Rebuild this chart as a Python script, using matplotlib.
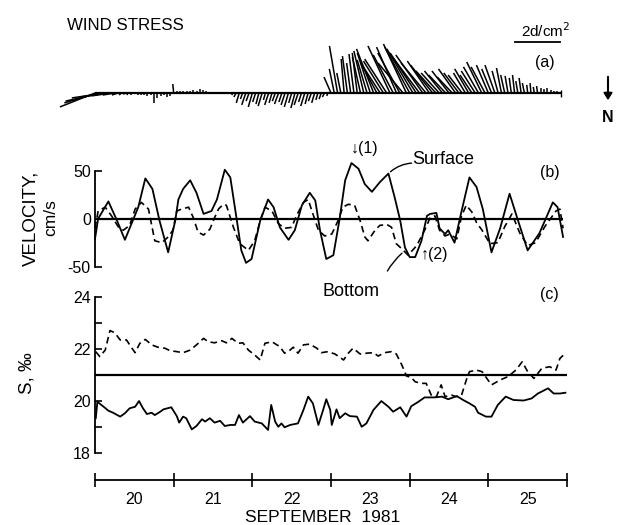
import numpy as np
import matplotlib
matplotlib.use("Agg")
from matplotlib import pyplot as plt
from matplotlib.collections import LineCollection

plt.rcParams['font.family'] = ['Liberation Sans', 'DejaVu Sans']

# --- wind stress sticks, hourly from Sept 20 00:00 (dyn/cm^2) ---
wind_t = 20 + np.arange(145) / 24
wind_u = ([-1.56, -1.51, -1.60, -1.47, -1.24, -0.89, -0.53, -0.27,
           -0.09, -0.04, -0.04, 0, 0, 0, 0, 0, 0, 0]
          + [0] * 6 + [-0.04] + [0] * 15 + [0, 0, -0.04, -0.09]
          + [-0.13, -0.09, -0.18, -0.13, -0.18, -0.13, -0.13, -0.18, -0.09, -0.18,
             -0.13, -0.13, -0.18, -0.13, -0.18, -0.18, -0.13, -0.18, -0.18, -0.13,
             -0.18, -0.13, -0.13, -0.13, -0.09, -0.09, -0.09, -0.04]
          + [-0.31, -0.22, -0.36, -0.18, -0.13, -0.22, -0.18, -0.22, -0.22, -0.36,
             -0.44, -0.44, -0.58, -0.76, -0.71, -0.80, -0.89, -0.98, -0.98, -0.89,
             -0.89, -0.98, -1.11, -1.02, -1.11, -1.16, -1.16, -1.20, -1.20, -1.11,
             -0.98, -0.98, -0.89, -0.80, -0.80, -0.76, -0.76, -0.67, -0.76, -0.67,
             -0.62, -0.53, -0.62, -0.53, -0.62, -0.67, -0.67, -0.62, -0.53, -0.44,
             -0.44, -0.27, -0.22, -0.18, -0.13, -0.09, -0.09, -0.09, -0.09, -0.09,
             -0.04, -0.04, -0.04, -0.04, 0, 0, 0, 0, 0, 0, 0, 0, 0])
wind_v = ([-0.62, -0.44, -0.36, -0.22, -0.18, -0.13, -0.09, -0.09,
           -0.09, -0.07, -0.09, -0.09, -0.04, -0.09, -0.09, -0.09, -0.13, -0.09,
           -0.44, -0.22, -0.13, -0.09, -0.18, -0.13, 0.40,
           0.09, 0.09, 0.07, 0.09, 0.09, 0.13, 0.09, 0.16, 0.13, 0.09, 0.04, 0.04,
           0.02, -0.04, -0.04, -0.04, -0.04, -0.09, -0.18]
          + [-0.44, -0.27, -0.53, -0.36, -0.62, -0.40, -0.49, -0.58, -0.31, -0.53,
             -0.44, -0.36, -0.49, -0.40, -0.53, -0.62, -0.44, -0.67, -0.53, -0.40,
             -0.58, -0.49, -0.36, -0.44, -0.31, -0.27, -0.18, -0.13]
          + [0.71, 1.07, 2.09, 0.89, 1.51, 1.64, 1.33, 1.73, 1.78, 1.60,
             1.87, 1.47, 1.78, 1.96, 1.33, 1.24, 1.42, 1.51, 2.09, 1.69,
             2.04, 1.78, 1.33, 2.18, 2.04, 1.96, 1.78, 1.60, 1.69, 1.33,
             1.42, 1.24, 0.98, 0.89, 0.98, 0.80, 0.98, 0.71, 1.07, 0.89,
             0.80, 0.89, 1.07, 0.80, 0.98, 1.16, 1.38, 1.16, 1.24, 1.07,
             1.24, 0.98, 1.11, 0.80, 0.76, 0.67, 0.80, 0.53, 0.67, 0.44,
             0.36, 0.44, 0.27, 0.31, 0.22, 0.18, 0.22, 0.13, 0.09, 0.09,
             0.04, 0, 0])

# --- velocity (cm/s) ---
surf_t = [20.00, 20.04, 20.17, 20.28, 20.38, 20.49, 20.55, 20.64, 20.73, 20.82,
          20.93, 21.02, 21.06, 21.12, 21.21, 21.29, 21.38, 21.48, 21.55, 21.65,
          21.72, 21.80, 21.86, 21.92, 21.99, 22.10, 22.20, 22.27, 22.35, 22.46,
          22.54, 22.63, 22.73, 22.80, 22.86, 22.94, 23.03, 23.11, 23.18, 23.26,
          23.35, 23.43, 23.52, 23.62, 23.73, 23.81, 23.88, 23.94, 24.00, 24.07,
          24.15, 24.22, 24.26, 24.34, 24.38, 24.45, 24.49, 24.57, 24.66, 24.76,
          24.85, 24.93, 25.04, 25.15, 25.27, 25.37, 25.50, 25.65, 25.82, 25.88,
          25.95]
surf_v = [-21, 0, 18, -2, -22, 0, 12, 42, 31, -2, -35, -2, 20, 31, 40, 27, 5, 8,
          20, 51, 43, 0, -33, -46, -42, -2, 20, 12, -9, -22, -12, 14, 27, 19, -12,
          -42, -38, 0, 40, 58, 52, 36, 28, 38, 47, 22, -2, -30, -40, -40, -23, 3,
          5, 6, -10, -16, -12, -25, 8, 43, 33, 10, -35, -10, 26, 0, -33, -15, 17,
          12, -19]
bot_t = [20.00, 20.04, 20.13, 20.21, 20.30, 20.36, 20.44, 20.51, 20.59, 20.68,
         20.76, 20.85, 20.93, 20.99, 21.04, 21.10, 21.19, 21.25, 21.31, 21.38,
         21.46, 21.52, 21.57, 21.63, 21.67, 21.76, 21.84, 21.95, 22.03, 22.10,
         22.16, 22.25, 22.33, 22.41, 22.50, 22.56, 22.65, 22.71, 22.77, 22.84,
         22.92, 23.01, 23.09, 23.15, 23.22, 23.30, 23.37, 23.43, 23.47, 23.56,
         23.62, 23.71, 23.77, 23.83, 23.92, 23.98, 24.09, 24.19, 24.26, 24.32,
         24.38, 24.45, 24.51, 24.60, 24.66, 24.72, 24.79, 24.85, 24.92, 25.02,
         25.12, 25.21, 25.30, 25.40, 25.50, 25.60, 25.72, 25.86, 25.91, 25.95]
bot_v = [-10, 8, 12, 3, -9, -12, -7, 10, 17, 10, -23, -25, -19, -12, 8, 10, 12,
         1, -14, -17, -11, 1, 10, 15, 14, -9, -26, -33, -23, -2, 12, 8, -5, -10,
         -9, 3, 17, 20, 5, -12, -18, -16, -2, 12, 15, 14, -2, -19, -23, -12, -7,
         -6, -9, -26, -33, -38, -28, -12, 1, 3, -12, -18, -16, -21, 3, 14, 7, -4,
         -12, -26, -25, -8, 5, -15, -28, -25, -8, 8, 10, -10]

# --- salinity (per mil) ---
sb_t = [20.01, 20.06, 20.13, 20.19, 20.25, 20.32, 20.40, 20.47, 20.51, 20.57,
        20.64, 20.72, 20.80, 20.89, 20.95, 21.04, 21.12, 21.21, 21.29, 21.38,
        21.44, 21.52, 21.61, 21.67, 21.74, 21.82, 21.88, 21.95, 22.03, 22.10,
        22.16, 22.25, 22.35, 22.41, 22.48, 22.52, 22.58, 22.65, 22.73, 22.82,
        22.88, 22.96, 23.05, 23.16, 23.22, 23.28, 23.37, 23.45, 23.54, 23.60,
        23.68, 23.77, 23.83, 23.90, 23.96, 24.02, 24.07, 24.15, 24.21, 24.28,
        24.34, 24.40, 24.45, 24.53, 24.59, 24.66, 24.72, 24.76, 24.85, 24.92,
        25.04, 25.15, 25.25, 25.35, 25.43, 25.50, 25.58, 25.68, 25.78, 25.86,
        25.91, 25.98]
sb_s = [21.91, 21.72, 21.97, 22.72, 22.64, 22.36, 22.36, 22.04, 21.87, 22.23,
        22.38, 22.17, 22.08, 22.04, 21.95, 21.91, 21.87, 21.97, 22.17, 22.42,
        22.29, 22.25, 22.33, 22.25, 22.42, 22.23, 22.25, 21.97, 21.78, 21.59,
        22.23, 22.29, 22.10, 21.85, 21.97, 22.08, 21.85, 22.17, 22.20, 22.04,
        21.87, 21.91, 21.82, 21.59, 21.85, 22.04, 21.82, 21.85, 21.87, 21.74,
        21.87, 21.91, 21.82, 21.40, 20.97, 20.92, 20.75, 20.69, 20.69, 20.20,
        20.18, 20.63, 20.18, 20.24, 20.18, 20.24, 20.82, 21.14, 21.20, 21.14,
        20.63, 20.82, 20.95, 21.20, 21.52, 21.14, 20.88, 21.27, 21.33, 21.20,
        21.65, 21.85]
ss_t = [20.01, 20.03, 20.11, 20.17, 20.23, 20.32, 20.38, 20.44, 20.51, 20.56,
        20.61, 20.66, 20.72, 20.76, 20.83, 20.87, 20.97, 21.04, 21.07, 21.12,
        21.16, 21.23, 21.29, 21.36, 21.40, 21.46, 21.52, 21.59, 21.65, 21.72,
        21.78, 21.83, 21.88, 21.97, 22.03, 22.12, 22.20, 22.24, 22.29, 22.33,
        22.37, 22.41, 22.48, 22.58, 22.65, 22.71, 22.77, 22.84, 22.90, 22.94,
        22.99, 23.01, 23.07, 23.11, 23.18, 23.24, 23.33, 23.39, 23.45, 23.54,
        23.64, 23.73, 23.79, 23.88, 23.96, 24.02, 24.11, 24.19, 24.32, 24.41,
        24.49, 24.60, 24.68, 24.76, 24.83, 24.87, 24.97, 25.04, 25.12, 25.22,
        25.32, 25.45, 25.55, 25.63, 25.76, 25.83, 25.91, 25.98]
ss_s = [19.35, 19.98, 19.79, 19.64, 19.56, 19.41, 19.54, 19.73, 19.79, 20.01,
        19.73, 19.51, 19.56, 19.47, 19.60, 19.69, 19.77, 19.43, 19.18, 19.41,
        19.35, 18.92, 19.05, 19.31, 19.22, 19.35, 19.18, 19.25, 19.05, 19.09,
        19.09, 19.47, 19.18, 19.43, 19.22, 19.15, 18.90, 19.86, 19.22, 19.02,
        19.15, 19.00, 19.09, 19.15, 19.67, 20.18, 19.92, 19.09, 19.67, 20.08,
        19.67, 19.09, 19.69, 19.35, 19.54, 19.43, 19.41, 19.02, 19.15, 19.67,
        20.01, 19.79, 19.60, 19.77, 19.41, 19.81, 19.98, 20.15, 20.15, 20.18,
        20.08, 20.20, 20.05, 19.92, 19.79, 19.56, 19.41, 19.41, 19.86, 20.18,
        20.05, 20.03, 20.11, 20.30, 20.50, 20.30, 20.30, 20.33]

days = [20, 21, 22, 23, 24, 25]

W, H = 619, 525
fig = plt.figure(figsize=(W / 100, H / 100), dpi=100)


def box(x0, y0, x1, y1):
    return [x0 / W, 1 - y1 / H, (x1 - x0) / W, (y1 - y0) / H]


def ftext(x, y, s, **kw):
    kw.setdefault("ha", "center")
    kw.setdefault("va", "center")
    fig.text(x / W, 1 - y / H, s, **kw)


lw = 1.3
day_per_dyn = 22.5 / 78.7  # so sticks keep their true direction

# (a) wind stress
ax_a = fig.add_axes(box(95, 40, 567, 115))
ax_a.set_xlim(20, 26)
ax_a.set_ylim(-22 / 22.5, 53 / 22.5)
ax_a.axis("off")
segs = [[(t, 0), (t + u * day_per_dyn, v)] for t, u, v in zip(wind_t, wind_u, wind_v)]
ax_a.add_collection(LineCollection(segs, colors="k", linewidths=1.1, clip_on=False))
ax_a.hlines(0, 20, 25.93, color="k", lw=1.6)
ax_a.vlines(25.93, -0.18, 0.13, color="k", lw=1)
ax_a.plot([25.34, 25.34 + 2 * day_per_dyn], [2.27, 2.27], color="k", lw=1.3, clip_on=False)

# (b) velocity
ax_b = fig.add_axes(box(95, 170.7, 567, 266.7))
ax_b.set_xlim(20, 26)
ax_b.set_ylim(-50, 50)
ax_b.hlines(0, 20, 25.95, color="k", lw=1.6)
ax_b.plot(surf_t, surf_v, color="k", lw=lw, clip_on=False)
ax_b.plot(bot_t, bot_v, color="k", lw=1.2, dashes=(4, 2.5), clip_on=False)

# (c) salinity
ax_c = fig.add_axes(box(95, 297.3, 567, 453.3))
ax_c.set_xlim(20, 26)
ax_c.set_ylim(18, 24)
ax_c.hlines(21, 20, 26, color="k", lw=1.6)
ax_c.plot(ss_t, ss_s, color="k", lw=lw, clip_on=False)
ax_c.plot(sb_t, sb_s, color="k", lw=1.2, dashes=(4, 2.5), clip_on=False)

for ax in (ax_b, ax_c):
    for side in ("top", "right", "bottom"):
        ax.spines[side].set_visible(False)
    ax.spines["left"].set_linewidth(1.3)
    ax.set_xticks([])
    ax.tick_params(axis="y", direction="in", length=5, width=1.2, labelsize=11.5, pad=3)

ax_b.set_yticks([-50, 0, 50])
ax_b.set_yticklabels(["-50", "0", "50"])
ax_c.set_yticks([18, 19, 20, 21, 22, 23, 24])
ax_c.set_yticklabels(["18", "", "20", "", "22", "", "24"])

# time axis
ax_t = fig.add_axes(box(95, 479, 567, 480))
ax_t.set_xlim(20, 26)
ax_t.set_yticks([])
for side in ("top", "right", "left"):
    ax_t.spines[side].set_visible(False)
ax_t.spines["bottom"].set_linewidth(1.3)
ax_t.set_xticks(range(20, 27))
ax_t.set_xticklabels([])
ax_t.tick_params(axis="x", which="major", direction="inout", length=10, width=1.2)
ax_t.set_xticks([d + 0.5 for d in days], minor=True)
ax_t.set_xticklabels([str(d) for d in days], minor=True)
ax_t.tick_params(axis="x", which="minor", length=0, labelsize=11.5, pad=9)

# labels
ftext(67, 25, "WIND STRESS", ha="left", fontsize=12.2)
ftext(546, 31, "2d/cm$^2$", fontsize=11)
ftext(545, 62, "(a)", fontsize=11.5)
ftext(608, 117, "N", fontsize=11.5, fontweight="bold")
fig.add_artist(matplotlib.patches.FancyArrowPatch(
    (608 / W, 1 - 74 / H), (608 / W, 1 - 103 / H), transform=fig.transFigure,
    arrowstyle="-|>,head_length=4,head_width=2.5", color="k", lw=1.5))

ftext(31, 218, "VELOCITY,", rotation=90, fontsize=13.5)
ftext(51, 218, "cm/s", rotation=90, fontsize=12.5)
ftext(550, 172, "(b)", fontsize=11.5)
ftext(365, 148, "\u2193(1)", fontsize=11.5)
ftext(412, 160, "Surface", ha="left", fontsize=13)
ftext(421, 254, "\u2191(2)", ha="left", fontsize=11.5)
ftext(351, 292, "Bottom", fontsize=13)
ax_b.annotate("", xy=(23.73, 47), xytext=(24.06, 58),
              arrowprops=dict(arrowstyle="-", color="k", lw=1,
                              connectionstyle="arc3,rad=0.2"), annotation_clip=False)
ax_b.annotate("", xy=(23.93, -34), xytext=(23.7, -57),
              arrowprops=dict(arrowstyle="-", color="k", lw=1,
                              connectionstyle="arc3,rad=-0.1"), annotation_clip=False)

ftext(549, 295, "(c)", fontsize=11.5)
ftext(27, 373, "S, \u2030", rotation=90, fontsize=13.5)
ftext(323, 517, "SEPTEMBER  1981", fontsize=12.5)

fig.savefig("out.png", dpi=100)
